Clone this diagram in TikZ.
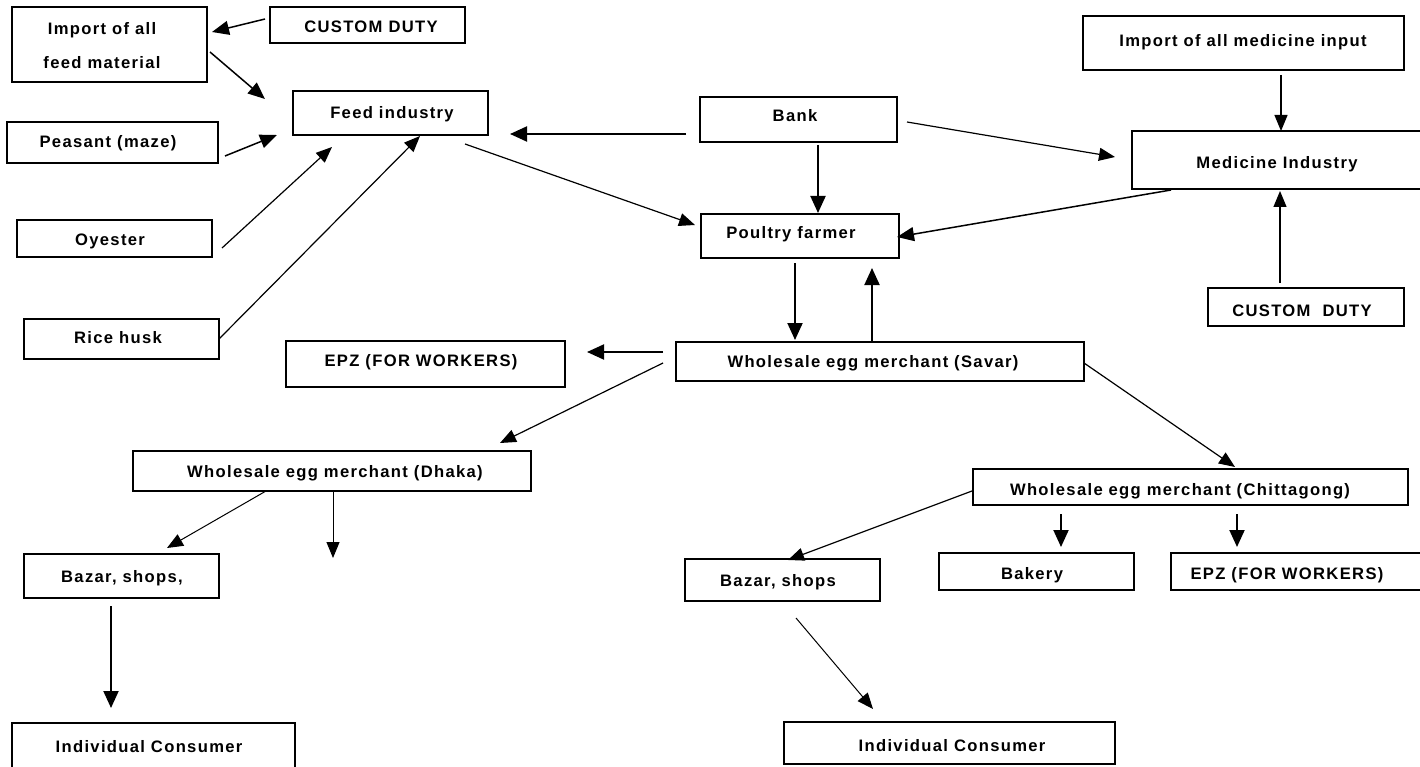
\documentclass[tikz,border=0pt]{standalone}
\usepackage{fontspec}
\setmainfont{Liberation Sans}[LetterSpace=8]
\usetikzlibrary{arrows.meta,calc}
\tikzset{
  box/.style={draw, line width=1.8pt, inner sep=0pt, outer sep=0pt, rectangle},
  lab/.style={anchor=base, inner sep=0pt, font=\fontsize{16.6}{19.9}\selectfont\bfseries, text=black},
  arr/.style={-{Triangle[length=16pt,width=13pt]}, line width=1.2pt},
  arrmid/.style={-{Triangle[length=17pt,width=14pt]}, line width=1.5pt},
  arrthick/.style={-{Triangle[length=17pt,width=15pt]}, line width=2pt},
}
\begin{document}
\begin{tikzpicture}[x=1pt,y=-1pt]
\useasboundingbox (0,0) rectangle (1420,767);
\begin{scope}
\clip (0,0) rectangle (1420,767);
% boxes
\node[box, minimum width=195, minimum height=75] (impfeed) at (109.5,44.5) {};
\node[box, minimum width=195, minimum height=36] (cd1) at (367.5,25) {};
\node[box, minimum width=195, minimum height=44] (feed) at (390.5,113) {};
\node[box, minimum width=211, minimum height=41] (peasant) at (112.5,142.5) {};
\node[box, minimum width=195, minimum height=37] (oyster) at (114.5,238.5) {};
\node[box, minimum width=195, minimum height=40] (rice) at (121.5,339) {};
\node[box, minimum width=197, minimum height=45] (bank) at (798.5,119.5) {};
\node[box, minimum width=198, minimum height=44] (poultry) at (800,236) {};
\node[box, minimum width=321, minimum height=54] (impmed) at (1243.5,43) {};
\node[box, minimum width=308, minimum height=58] (med) at (1286,160) {};
\node[box, minimum width=196, minimum height=38] (cd2) at (1306,307) {};
\node[box, minimum width=279, minimum height=46] (epz1) at (425.5,364) {};
\node[box, minimum width=408, minimum height=39] (savar) at (880,361.5) {};
\node[box, minimum width=398, minimum height=40] (dhaka) at (332,471) {};
\node[box, minimum width=435, minimum height=36] (chit) at (1190.5,487) {};
\node[box, minimum width=195, minimum height=44] (bazar1) at (121.5,576) {};
\node[box, minimum width=195, minimum height=42] (bazar2) at (782.5,580) {};
\node[box, minimum width=195, minimum height=37] (bakery) at (1036.5,571.5) {};
\node[box, minimum width=269, minimum height=37] (epz2) at (1305.5,571.5) {};
\node[box, minimum width=283, minimum height=66] (cons1) at (153.5,756) {};
\node[box, minimum width=331, minimum height=42] (cons2) at (949.5,743) {};
% labels
\node[lab, anchor=center, align=center] (impfeedt) at (102,46) {Import of all\\[14pt]feed material};
\node[lab] (cd1t) at (371,33) {CUSTOM DUTY};
\node[lab] (feedt) at (392,119) {Feed industry};
\node[lab] (peasantt) at (108,148) {Peasant (maze)};
\node[lab] (oystert) at (110,245) {Oyester};
\node[lab] (ricet) at (118,343) {Rice husk};
\node[lab] (bankt) at (795,122) {Bank};
\node[lab] (poultryt) at (791,239) {Poultry farmer};
\node[lab] (impmedt) at (1243,47) {Import of all medicine input};
\node[lab] (medt) at (1277,169) {Medicine Industry};
\node[lab] (cd2t) at (1302,316) {CUSTOM\hspace{12pt}DUTY};
\node[lab] (epz1t) at (421,366) {EPZ (FOR WORKERS)};
\node[lab] (savart) at (873,367) {Wholesale egg merchant (Savar)};
\node[lab] (dhakat) at (335,477) {Wholesale egg merchant (Dhaka)};
\node[lab] (chitt) at (1180,495) {Wholesale egg merchant (Chittagong)};
\node[lab] (bazar1t) at (122,582) {Bazar, shops,};
\node[lab] (bazar2t) at (778,586) {Bazar, shops};
\node[lab] (bakeryt) at (1032,579) {Bakery};
\node[lab] (epz2t) at (1287,579) {EPZ (FOR WORKERS)};
\node[lab] (cons1t) at (149,752) {Individual Consumer};
\node[lab] (cons2t) at (952,751) {Individual Consumer};
\coordinate (dhakaend) at (333,558);
% connectors
\draw[arrmid] ($(cd1)+(-102.5,-6)$) -- ($(impfeed)+(102.5,-12.5)$);
\draw[arrmid] ($(impfeed)+(100.5,7.5)$) -- ($(feed)+(-125.5,-14)$);
\draw[arrmid] ($(peasant)+(112.5,13.5)$) -- ($(feed)+(-113.5,22)$);
\draw[arr] ($(oyster)+(107.5,9.5)$) -- ($(feed)+(-58.5,34)$);
\draw[arr] ($(rice)+(97.5,0)$) -- ($(feed)+(29.5,23)$);
\draw[arrthick] ($(bank)+(-112.5,14.5)$) -- ($(feed)+(119.5,21)$);
\draw[arrthick] ($(bank)+(19.5,25.5)$) -- ($(poultry)+(18,-23)$);
\draw[arr] ($(feed)+(74.5,31)$) -- ($(poultry)+(-105,-11)$);
\draw[arr] ($(bank)+(108.5,2.5)$) -- ($(med)+(-171,-3)$);
\draw[arr] ($(impmed)+(37.5,32)$) -- ($(med)+(-5,-29)$);
\draw[arrmid] ($(med)+(-115,30)$) -- ($(poultry)+(97,1)$);
\draw[arr] ($(cd2)+(-26,-24)$) -- ($(med)+(-6,31)$);
\draw[arrthick] ($(poultry)+(-5,27)$) -- ($(savar)+(-85,-21.5)$);
\draw[arrthick] ($(savar)+(-8,-19.5)$) -- ($(poultry)+(72,32)$);
\draw[arrthick] ($(savar)+(-217,-9.5)$) -- ($(epz1)+(161.5,-12)$);
\draw[arr] ($(savar)+(-217,1.5)$) -- ($(dhaka)+(168,-28)$);
\draw[arr, line width=1pt] ($(dhaka)+(-66,20)$) -- ($(bazar1)+(45.5,-28)$);
\draw[arr, line width=1pt] ($(dhaka)+(1,20)$) -- (dhakaend);
\draw[arrthick] ($(bazar1)+(-10.5,30)$) -- ($(cons1)+(-42.5,-48)$);
\draw[arr] ($(savar)+(204,1.5)$) -- ($(chit)+(44.5,-20)$);
\draw[arr] ($(chit)+(-218.5,4)$) -- ($(bazar2)+(5.5,-20)$);
\draw[arrthick] ($(chit)+(-129.5,27)$) -- ($(bakery)+(24.5,-24.5)$);
\draw[arrthick] ($(chit)+(46.5,27)$) -- ($(epz2)+(-68.5,-24.5)$);
\draw[arr, line width=1pt] ($(bazar2)+(13.5,38)$) -- ($(cons2)+(-76.5,-34)$);
\end{scope}
\end{tikzpicture}
\end{document}
